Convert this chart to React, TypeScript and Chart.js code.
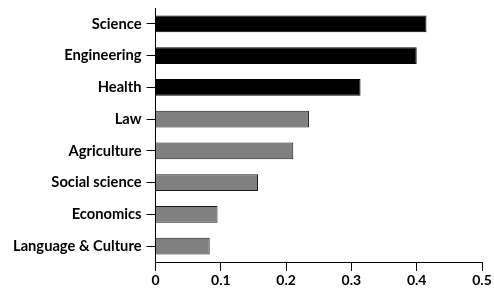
import React, { useEffect, useRef } from "react";
import { Chart, registerables } from "chart.js";

Chart.register(...registerables);

const categories = [
  "Science",
  "Engineering",
  "Health",
  "Law",
  "Agriculture",
  "Social science",
  "Economics",
  "Language & Culture",
];
const values = [0.415, 0.4, 0.314, 0.235, 0.211, 0.157, 0.095, 0.083];
const highlighted = [true, true, true, false, false, false, false, false];
const xTicks = [0, 0.1, 0.2, 0.3, 0.4, 0.5];

export default function App() {
  const ref = useRef<HTMLCanvasElement | null>(null);

  useEffect(() => {
    document.body.style.margin = "0";
    const canvas = ref.current;
    if (!canvas) return;
    const yFont = { family: "Lato", size: 14.7, weight: "bold" as const };
    const xFont = { family: "Lato", size: 14, weight: "bold" as const };
    const chart = new Chart(canvas, {
      type: "bar",
      data: {
        labels: categories,
        datasets: [
          {
            data: values,
            backgroundColor: highlighted.map((h) => (h ? "#000000" : "#808080")),
            borderColor: highlighted.map((h) => (h ? "#000000" : "#1a1a1a")),
            borderWidth: 1,
            categoryPercentage: 1,
            barPercentage: 0.53,
          },
        ],
      },
      options: {
        indexAxis: "y",
        responsive: false,
        animation: false,
        layout: { padding: { top: 8, right: 12, left: 0, bottom: 0 } },
        plugins: { legend: { display: false }, tooltip: { enabled: false } },
        scales: {
          x: {
            type: "linear",
            min: 0,
            max: 0.5,
            afterBuildTicks: (scale: any) => {
              scale.ticks = xTicks.map((v) => ({ value: v }));
            },
            afterFit: (scale: any) => {
              scale.height = 35;
            },
            grid: {
              drawOnChartArea: false,
              drawTicks: true,
              tickLength: 9,
              color: "#000",
              lineWidth: 1,
            },
            border: { display: true, color: "#000", width: 1 },
            ticks: {
              color: "#000",
              font: xFont,
              padding: 1,
              maxRotation: 0,
              callback: (v: any) => String(Math.round(Number(v) * 10) / 10),
            },
          },
          y: {
            type: "category",
            afterFit: (scale: any) => {
              scale.width = 155.5;
              scale.paddingTop = 0;
              scale.paddingBottom = 0;
            },
            grid: {
              offset: false,
              drawOnChartArea: false,
              drawTicks: true,
              tickLength: 9,
              color: "#000",
              lineWidth: 1,
            },
            border: { display: true, color: "#000", width: 1 },
            ticks: { color: "#000", font: yFont, padding: 5 },
          },
        },
      },
    });
    return () => chart.destroy();
  }, []);

  return <canvas ref={ref} width={494} height={297} style={{ display: "block" }} />;
}
